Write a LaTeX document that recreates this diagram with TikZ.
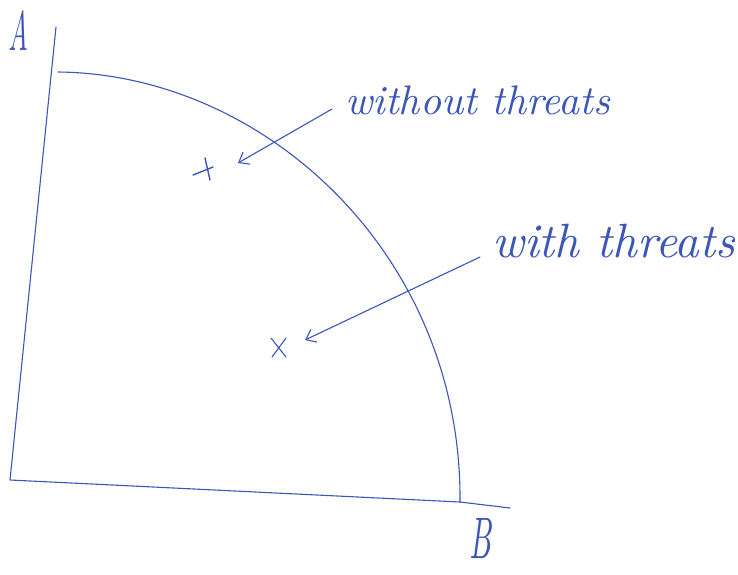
\documentclass[tikz,border=0pt]{standalone}
\usepackage{graphicx}
\usetikzlibrary{arrows.meta}
\definecolor{ink}{RGB}{60,85,185}
\begin{document}
\begin{tikzpicture}[x=1pt,y=-1pt,
  pen/.style={draw=ink,line width=1.1pt,line cap=round,line join=round},
  lbl/.style={text=ink,inner sep=0pt,font=\itshape},
  ptmark/.style={inner sep=0pt,minimum size=0pt},
  ptr/.style={pen,-{Straight Barb[length=9pt,width=14pt,line width=1.1pt]}}]
\useasboundingbox[fill=white] (0,0) rectangle (738,574);
% axes
\coordinate (top) at (56,27);
\coordinate (orig) at (10,480);
\coordinate (bend) at (460,502);
\coordinate (xend) at (510,508);
\draw[pen] (top) -- (orig) -- (bend) -- (xend);
% frontier curve
\coordinate (cs) at (58,72);
\coordinate (ce) at (460,502);
\draw[pen] (cs) .. controls (265,74) and (462,255) .. (ce);
% axis labels
\node[lbl] (A) at (18,30) {\resizebox{20pt}{40pt}{A}};
\node[lbl] (B) at (480,538) {\resizebox{22pt}{40pt}{B}};
% points
\node[ptmark] (p1) at (205,168) {};
\node[ptmark] (p2) at (279,347) {};
\draw[pen,line width=1.4pt] ([shift={(-12,7)}]p1.center) -- ([shift={(8,-1)}]p1.center);
\draw[pen,line width=1.4pt] ([shift={(0,-10)}]p1.center) -- ([shift={(5,12)}]p1.center);
\draw[pen] ([shift={(-8,-9)}]p2.center) -- ([shift={(7,10)}]p2.center);
\draw[pen] ([shift={(7,-9)}]p2.center) -- ([shift={(-7,10)}]p2.center);
% labels
\node[lbl,anchor=west] (t1) at (345,100) {\resizebox{265pt}{!}{without threats}};
\node[lbl,anchor=west] (t2) at (492,241) {\resizebox{243pt}{!}{with threats}};
% pointers
\coordinate (s1) at (332,109);
\coordinate (e1) at (238,163);
\coordinate (s2) at (480,257);
\coordinate (e2) at (305,340);
\draw[ptr] (s1) -- (e1);
\draw[ptr] (s2) -- (e2);
\end{tikzpicture}
\end{document}
